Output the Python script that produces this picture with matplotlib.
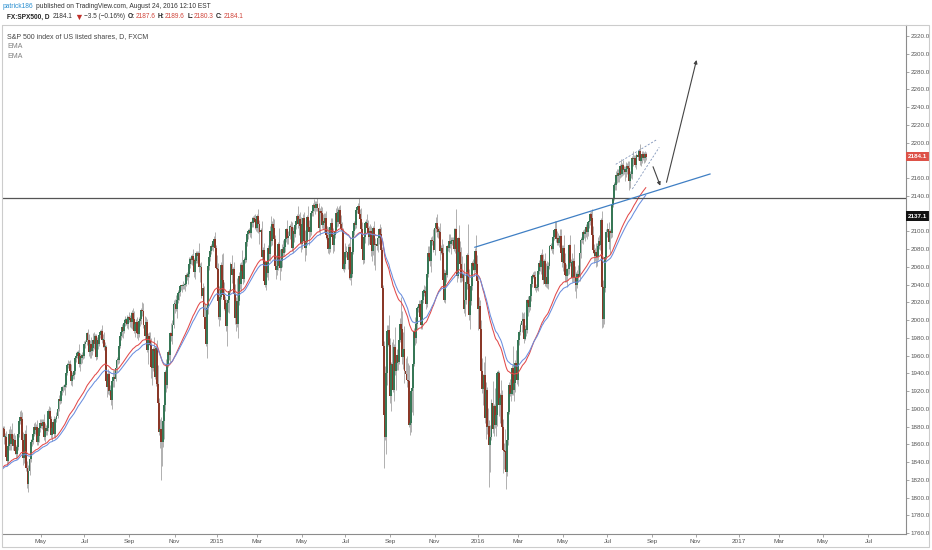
import numpy as np
import pandas as pd
import matplotlib
matplotlib.use("Agg")
import matplotlib.pyplot as plt
from matplotlib.patches import Rectangle

plt.rcParams['font.family'] = ['Liberation Sans', 'DejaVu Sans']

# ---- data: FXCM SPX500 daily closes ----
# Jan-Feb 2014 only feed the EMAs (left of the visible window)
warmup_close = [1832, 1831, 1826, 1838, 1837, 1838, 1843, 1819, 1839, 1848, 1845, 1838, 1843, 1844, 1829, 1790, 1782, 1792, 1774, 1794, 1783,
                1742, 1755, 1751, 1773, 1797, 1800, 1819, 1820, 1830, 1838, 1840, 1829, 1839, 1828, 1837, 1848, 1845, 1854, 1859]

close_2014 = [  # Mar .. Dec
    1845, 1873, 1873, 1877, 1878, 1877, 1868, 1868, 1846, 1841, 1858, 1872, 1860, 1872, 1866, 1858, 1865, 1852, 1849, 1857, 1872,
    1886, 1891, 1889, 1865, 1845, 1852, 1872, 1833, 1815, 1830, 1843, 1862, 1865, 1872, 1880, 1876, 1879, 1863, 1869, 1878, 1884,
    1883, 1881, 1885, 1868, 1878, 1875, 1878, 1897, 1897, 1888, 1870, 1878, 1885, 1872, 1888, 1892, 1900, 1911, 1909, 1920, 1924,
    1924, 1924, 1927, 1940, 1949, 1951, 1950, 1943, 1931, 1937, 1938, 1942, 1957, 1960, 1963, 1963, 1950, 1959, 1957, 1961, 1960,
    1973, 1975, 1985, 1977, 1964, 1973, 1965, 1968, 1977, 1973, 1982, 1958, 1978, 1973, 1983, 1987, 1988, 1978, 1978, 1970, 1970, 1931,
    1925, 1939, 1920, 1920, 1910, 1931, 1936, 1933, 1946, 1955, 1955, 1971, 1982, 1986, 1992, 1988, 1997, 2000, 2000, 1996, 2003,
    2002, 2000, 1998, 2008, 2001, 1988, 1995, 1998, 1985, 1984, 1999, 2001, 2011, 2010, 1994, 1982, 1998, 1966, 1982, 1977, 1972,
    1947, 1946, 1967, 1965, 1936, 1969, 1928, 1906, 1874, 1877, 1862, 1862, 1886, 1904, 1941, 1927, 1950, 1964, 1961, 1985, 1982, 1994, 2018,
    2018, 2012, 2023, 2031, 2032, 2038, 2039, 2038, 2039, 2039, 2041, 2051, 2049, 2052, 2063, 2069, 2068, 2072, 2068,
    2054, 2067, 2075, 2072, 2075, 2060, 2060, 2027, 2036, 2003, 1990, 1973, 2013, 2061, 2071, 2078, 2083, 2082, 2089, 2091, 2081, 2059,
]
close_2015 = [
    2058, 2021, 2003, 2026, 2062, 2045, 2028, 2023, 2012, 1993, 2019, 2023, 2033, 2063, 2051, 2057, 2029, 2002, 2021, 1995,
    2021, 2050, 2041, 2062, 2055, 2046, 2068, 2068, 2088, 2097, 2100, 2100, 2098, 2110, 2109, 2115, 2114, 2110, 2104,
    2117, 2108, 2099, 2101, 2071, 2079, 2044, 2040, 2065, 2053, 2081, 2074, 2100, 2089, 2108, 2104, 2091, 2061, 2056, 2061, 2086, 2068,
    2059, 2066, 2080, 2076, 2082, 2091, 2102, 2092, 2095, 2106, 2105, 2081, 2100, 2097, 2107, 2112, 2117, 2108, 2114, 2106, 2086,
    2108, 2115, 2089, 2081, 2088, 2116, 2105, 2099, 2099, 2121, 2123, 2130, 2128, 2126, 2131, 2126, 2104, 2123, 2121, 2107,
    2112, 2109, 2115, 2096, 2092, 2080, 2080, 2105, 2109, 2094, 2084, 2096, 2100, 2121, 2110, 2122, 2124, 2108, 2102, 2101, 2058, 2063,
    2077, 2077, 2068, 2082, 2047, 2052, 2077, 2100, 2109, 2107, 2124, 2127, 2128, 2119, 2114, 2102, 2080, 2068, 2093, 2109, 2109, 2104,
    2098, 2094, 2100, 2084, 2078, 2104, 2084, 2086, 2083, 2092, 2102, 2097, 2079, 2036, 1971, 1893, 1868, 1940, 1988, 1989, 1972,
    1914, 1949, 1951, 1921, 1970, 1942, 1952, 1961, 1953, 1978, 1996, 1990, 1958, 1967, 1943, 1939, 1932, 1931, 1882, 1884, 1920,
    1923, 1951, 1988, 1980, 1996, 2014, 2014, 2018, 2003, 1994, 2023, 2033, 2033, 2030, 2018, 2052, 2075, 2071, 2066, 2090, 2089, 2079,
    2104, 2109, 2102, 2099, 2099, 2078, 2081, 2076, 2045, 2023, 2053, 2051, 2083, 2081, 2089, 2086, 2089, 2089, 2090, 2080,
    2102, 2080, 2050, 2092, 2077, 2063, 2047, 2052, 2012, 2022, 2043, 2073, 2041, 2006, 2021, 2038, 2064, 2061, 2056, 2078, 2063, 2044,
]
close_2016 = [  # Jan .. Aug 24
    2012, 2016, 1990, 1943, 1922, 1923, 1938, 1890, 1921, 1880, 1881, 1859, 1868, 1906, 1877, 1903, 1882, 1893, 1940,
    1940, 1904, 1912, 1915, 1880, 1853, 1852, 1851, 1829, 1865, 1896, 1927, 1917, 1917, 1946, 1921, 1929, 1952, 1948, 1932,
    1978, 1987, 1994, 1999, 2001, 1979, 1989, 1989, 2022, 2019, 2015, 2027, 2041, 2050, 2051, 2049, 2036, 2036, 2037, 2055, 2064, 2060,
    2073, 2066, 2045, 2066, 2041, 2048, 2041, 2061, 2083, 2083, 2080, 2094, 2101, 2102, 2091, 2092, 2087, 2091, 2095, 2075, 2065,
    2081, 2064, 2051, 2050, 2057, 2058, 2084, 2064, 2064, 2047, 2066, 2047, 2047, 2040, 2052, 2048, 2076, 2090, 2090, 2099, 2097,
    2099, 2105, 2099, 2110, 2112, 2119, 2115, 2096, 2079, 2075, 2072, 2077, 2071, 2083, 2089, 2085, 2113, 2037, 2001, 2036, 2071, 2099,
    2103, 2088, 2100, 2098, 2130, 2137, 2152, 2152, 2163, 2162, 2166, 2163, 2173, 2165, 2175, 2169, 2169, 2167, 2170, 2174,
    2171, 2157, 2164, 2164, 2183, 2181, 2182, 2175, 2186, 2184, 2190, 2179, 2182, 2187, 2184, 2182, 2187.6, 2184.1,
]

# upper / lower wick length (points beyond the body)
wick_hi_2014 = [
    8, 3, 4, 5, 6, 3, 4, 5, 7, 6, 4, 5, 9, 5, 12, 6, 8, 5, 7, 6, 4,
    5, 6, 8, 7, 9, 5, 4, 10, 8, 7, 12, 4, 5, 3, 4, 5, 4, 8, 6, 3, 5,
    4, 5, 3, 9, 6, 4, 5, 3, 6, 5, 4, 6, 3, 7, 3, 4, 3, 4, 6, 3, 2,
    3, 4, 3, 2, 3, 4, 3, 5, 8, 4, 4, 3, 2, 4, 2, 3, 10, 4, 3, 3, 4,
    3, 2, 1, 5, 7, 4, 8, 4, 8, 9, 2, 2, 3, 5, 3, 2, 2, 6, 6, 8, 5, 2,
    9, 6, 3, 7, 8, 2, 8, 8, 3, 3, 10, 3, 2, 2, 3, 5, 4, 5, 2, 6, 2,
    6, 4, 9, 3, 6, 9, 2, 3, 5, 6, 4, 9, 2, 9, 9, 10, 5, 3, 3, 5, 10,
    8, 10, 3, 14, 6, 2, 8, 21, 6, 12, 14, 10, 7, 3, 3, 15, 5, 2, 6, 2, 12, 6, 5,
    6, 10, 2, 3, 3, 2, 1, 2, 5, 3, 2, 2, 3, 2, 8, 2, 4, 2, 8,
    2, 2, 3, 3, 3, 12, 4, 5, 6, 2, 15, 26, 3, 6, 5, 2, 3, 3, 2, 4, 8, 4,
]
wick_lo_2014 = [
    20, 3, 5, 4, 6, 5, 8, 9, 4, 5, 3, 4, 6, 7, 3, 5, 4, 3, 6, 5, 3,
    4, 3, 5, 3, 8, 6, 4, 3, 4, 9, 5, 3, 4, 5, 3, 4, 5, 4, 4, 6, 4,
    5, 4, 8, 3, 6, 5, 4, 3, 5, 4, 3, 6, 3, 4, 5, 3, 2, 3, 4, 3, 4,
    5, 3, 8, 3, 2, 3, 4, 3, 4, 5, 4, 5, 3, 4, 3, 3, 3, 7, 6, 5, 4,
    3, 4, 3, 3, 4, 7, 8, 4, 3, 6, 3, 3, 2, 6, 2, 3, 4, 4, 8, 4, 5, 2,
    12, 8, 5, 8, 6, 10, 6, 8, 2, 5, 4, 3, 3, 5, 5, 8, 3, 4, 6, 5, 6,
    4, 8, 7, 8, 12, 3, 7, 10, 5, 7, 3, 6, 6, 5, 3, 5, 4, 2, 16, 5, 8,
    12, 19, 4, 6, 2, 10, 2, 6, 3, 18, 42, 27, 5, 20, 6, 8, 4, 3, 6, 8, 6, 9, 3,
    10, 2, 10, 4, 8, 5, 4, 6, 3, 4, 6, 3, 4, 8, 3, 4, 5, 6, 2,
    6, 8, 3, 8, 4, 6, 17, 2, 4, 4, 12, 2, 16, 6, 5, 5, 4, 3, 4, 3, 3, 2,
]
wick_hi_2015 = [
    14, 6, 17, 4, 3, 12, 30, 15, 4, 12, 3, 8, 2, 2, 10, 3, 8, 12, 5, 26,
    3, 4, 14, 3, 17, 6, 3, 5, 2, 2, 3, 4, 2, 2, 6, 2, 3, 5, 6,
    2, 8, 5, 3, 10, 3, 8, 12, 2, 16, 3, 8, 6, 17, 3, 7, 10, 5, 12, 6, 2, 18,
    12, 8, 6, 10, 4, 3, 2, 11, 5, 2, 6, 5, 5, 6, 4, 4, 3, 12, 5, 8, 10,
    3, 5, 7, 12, 3, 2, 13, 8, 6, 2, 3, 2, 6, 6, 3, 7, 6, 3, 6, 6,
    8, 9, 6, 8, 10, 13, 9, 2, 6, 6, 10, 3, 8, 5, 7, 4, 4, 6, 10, 8, 3, 7,
    10, 6, 9, 5, 12, 15, 8, 2, 3, 6, 2, 2, 4, 10, 6, 12, 8, 12, 3, 2, 5, 10,
    9, 8, 8, 6, 6, 2, 8, 6, 6, 2, 2, 6, 8, 3, 3, 5, 55, 2, 6, 5, 17,
    8, 4, 24, 28, 3, 22, 9, 6, 8, 10, 6, 30, 20, 20, 26, 14, 20, 20, 18, 16, 3,
    3, 4, 3, 15, 4, 2, 4, 4, 5, 15, 3, 2, 6, 5, 20, 4, 8, 8, 10, 3, 5, 14,
    2, 7, 10, 4, 6, 10, 4, 10, 10, 12, 3, 17, 2, 5, 8, 8, 4, 5, 4, 14,
    2, 23, 10, 2, 15, 12, 19, 20, 12, 18, 30, 2, 35, 17, 6, 5, 2, 5, 7, 3, 18, 10,
]
wick_lo_2015 = [
    12, 20, 10, 3, 2, 5, 4, 12, 18, 5, 22, 10, 15, 3, 9, 8, 4, 6, 14, 3,
    15, 4, 6, 8, 8, 5, 3, 4, 3, 5, 6, 3, 5, 6, 4, 4, 4, 8, 4,
    5, 10, 13, 4, 3, 8, 2, 3, 6, 4, 8, 6, 8, 6, 4, 4, 3, 3, 10, 5, 5, 3,
    14, 4, 6, 5, 4, 5, 3, 6, 6, 4, 4, 3, 5, 9, 3, 5, 3, 4, 12, 5, 9,
    6, 4, 5, 14, 8, 4, 3, 14, 6, 3, 4, 6, 5, 6, 3, 3, 5, 8, 4, 3,
    5, 10, 4, 5, 8, 4, 6, 3, 5, 4, 8, 6, 4, 2, 5, 4, 3, 3, 2, 4, 2, 4,
    5, 6, 10, 22, 2, 8, 4, 3, 4, 4, 3, 3, 3, 2, 5, 6, 3, 5, 4, 6, 4, 5,
    14, 8, 6, 12, 12, 5, 22, 28, 4, 6, 6, 4, 8, 6, 7, 60, 3, 19, 13, 17, 4,
    8, 16, 7, 2, 12, 4, 21, 8, 9, 3, 3, 6, 8, 13, 14, 5, 8, 14, 3, 12, 10,
    24, 30, 3, 8, 6, 6, 5, 6, 8, 4, 4, 4, 6, 7, 6, 3, 4, 4, 5, 12, 5, 2,
    6, 5, 8, 7, 10, 10, 4, 4, 4, 3, 4, 8, 2, 3, 4, 5, 12, 5, 2, 2,
    4, 4, 7, 3, 5, 20, 4, 3, 4, 8, 4, 8, 3, 6, 16, 4, 4, 5, 6, 2, 4, 3,
]
wick_hi_2016 = [
    4, 10, 6, 10, 14, 16, 15, 22, 9, 4, 20, 6, 14, 5, 25, 2, 20, 6, 2,
    4, 2, 6, 17, 6, 8, 8, 25, 10, 2, 4, 3, 7, 10, 3, 25, 3, 3, 14, 14,
    2, 2, 3, 10, 7, 8, 5, 6, 2, 5, 6, 5, 5, 2, 3, 4, 6, 5, 4, 3, 4, 8,
    2, 7, 8, 3, 10, 16, 18, 4, 2, 4, 4, 2, 2, 9, 10, 8, 6, 5, 7, 8, 10,
    3, 15, 12, 12, 2, 10, 2, 12, 5, 12, 4, 20, 14, 7, 4, 10, 2, 3, 2, 2, 4,
    2, 3, 5, 2, 7, 3, 4, 10, 10, 7, 6, 10, 10, 11, 7, 6, 2, 10, 8, 2, 2, 3,
    6, 7, 3, 10, 2, 6, 3, 3, 5, 7, 4, 4, 3, 8, 2, 5, 4, 4, 8, 3,
    5, 8, 4, 4, 2, 7, 4, 4, 2, 4, 3, 8, 3, 3, 3, 5, 3, 2.0,
]
wick_lo_2016 = [
    23, 6, 8, 4, 4, 18, 8, 6, 24, 8, 16, 47, 30, 3, 4, 8, 4, 13, 12,
    8, 12, 20, 14, 4, 25, 20, 6, 19, 5, 6, 2, 3, 8, 2, 6, 12, 10, 10, 4,
    6, 6, 4, 8, 5, 5, 2, 7, 4, 14, 6, 4, 6, 4, 3, 6, 2, 4, 2, 4, 3, 5,
    8, 5, 4, 3, 3, 4, 5, 6, 3, 4, 5, 6, 4, 8, 3, 6, 3, 5, 4, 4, 5,
    10, 5, 8, 7, 13, 6, 6, 3, 10, 4, 4, 4, 14, 15, 4, 5, 4, 6, 3, 4, 5,
    8, 5, 8, 4, 6, 5, 6, 3, 3, 11, 6, 12, 10, 3, 3, 6, 3, 46, 9, 6, 4, 3,
    5, 8, 14, 6, 4, 3, 2, 5, 5, 8, 6, 7, 3, 4, 3, 6, 4, 10, 6, 5,
    6, 10, 8, 4, 5, 7, 4, 3, 5, 4, 4, 4, 6, 5, 4, 5, 4, 3.8,
]

# chart drawings (date, price)
hline_price = 2137.1
trend_dates, trend_prices = ['2015-12-29', '2016-11-21'], [2082.0, 2164.5]
chan_up_dates, chan_up_prices = ['2016-07-14', '2016-09-08'], [2175.4, 2202.8]
chan_lo_dates, chan_lo_prices = ['2016-08-05', '2016-09-13'], [2147.6, 2194.6]
arrow1_dates, arrow1_prices = ['2016-09-02', '2016-09-14'], [2172.7, 2151.3]
arrow2_dates, arrow2_prices = ['2016-09-22', '2016-11-02'], [2155.2, 2293.0]

nyse_holidays = ['2014-01-01', '2014-01-20', '2014-02-17', '2014-04-18', '2014-05-26', '2014-07-04', '2014-09-01',
                 '2014-11-27', '2014-12-25', '2015-01-01', '2015-01-19', '2015-02-16', '2015-04-03', '2015-05-25',
                 '2015-07-03', '2015-09-07', '2015-11-26', '2015-12-25', '2016-01-01', '2016-01-18', '2016-02-15',
                 '2016-03-25', '2016-05-30', '2016-07-04', '2016-09-05', '2016-11-24', '2016-12-26', '2017-01-02',
                 '2017-01-16', '2017-02-20', '2017-04-14', '2017-05-29', '2017-07-04']

# ---- build series ----
cal = pd.bdate_range('2014-01-02', '2017-08-31', freq='C', holidays=nyse_holidays)
close = np.array(close_2014 + close_2015 + close_2016, float)
wick_hi = np.array(wick_hi_2014 + wick_hi_2015 + wick_hi_2016, float)
wick_lo = np.array(wick_lo_2014 + wick_lo_2015 + wick_lo_2016, float)
n = len(close)
end_pos = cal.searchsorted(pd.Timestamp('2016-08-24'))
xs = np.arange(end_pos - n + 1, end_pos + 1)

opn = np.concatenate([[warmup_close[-1]], close[:-1]])
high = np.maximum(opn, close) + wick_hi
low = np.minimum(opn, close) - wick_lo

allc = pd.Series(warmup_close + list(close))
ema_fast = allc.ewm(span=50, adjust=False).mean().values[-n:]
ema_slow = allc.ewm(span=60, adjust=False).mean().values[-n:]


def xpos(d):
    return cal.searchsorted(pd.Timestamp(d))


# ---- figure ----
W, H = 932, 550
fig = plt.figure(figsize=(W / 100, H / 100), dpi=100)
fig.patch.set_facecolor('white')
ax = fig.add_axes([2 / W, (H - 534) / H, 904 / W, 509 / H])

UP, DN = '#377756', '#8a3828'
ax.vlines(xs, low, high, color='#a3a3a3', lw=0.6, zorder=2)
up = close >= opn
ax.bar(xs, np.maximum(np.abs(close - opn), 1.0), bottom=np.minimum(opn, close), width=1.8,
       color=np.where(up, UP, DN), lw=0, zorder=3)

ax.plot(xs, ema_fast, color='#e24a4a', lw=0.75, zorder=4)
ax.plot(xs, ema_slow, color='#6a8ede', lw=0.75, zorder=4)

# drawings
ax.axhline(hline_price, color='#555555', lw=0.9, zorder=5)
ax.plot([xpos(d) for d in trend_dates], trend_prices, color='#3f7fc4', lw=0.9, zorder=5)
for dts, prs in [(chan_up_dates, chan_up_prices), (chan_lo_dates, chan_lo_prices)]:
    ax.plot([xpos(d) for d in dts], prs, color='#7f93b8', lw=0.6, dashes=(2.5, 2), zorder=5)
for dts, prs in [(arrow1_dates, arrow1_prices), (arrow2_dates, arrow2_prices)]:
    ax.annotate('', xy=(xpos(dts[1]), prs[1]), xytext=(xpos(dts[0]), prs[0]),
                arrowprops=dict(arrowstyle='-|>', color='#444444', lw=0.8, mutation_scale=5,
                                shrinkA=0, shrinkB=0), zorder=6)

# scales: 2015-01-02 at px 217, 261 px per year of bars
k15 = xpos('2015-01-02')
pxbar = 261 / 252
ax.set_xlim(k15 - (217 - 2) / pxbar, k15 + (906 - 217) / pxbar)
ax.set_ylim(1758.9, 2332.4)

yt = np.arange(1760, 2321, 20)
ax.set_yticks(yt)
ax.set_yticklabels(['' if v in (2120, 2180) else f'{v:.1f}' for v in yt])
ax.yaxis.tick_right()

cs = cal.to_series()
firsts = cs.groupby(cal.to_period('M')).first()
tick_pos, tick_lab = [], []
for per, d in firsts.items():
    if per.month % 2 == 1 and pd.Timestamp('2014-05-01') <= d <= pd.Timestamp('2017-07-31'):
        tick_pos.append(xpos(d))
        tick_lab.append(str(per.year) if per.month == 1 else d.strftime('%b'))
ax.set_xticks(tick_pos)
ax.set_xticklabels(tick_lab)

ax.tick_params(axis='y', length=2.5, width=0.6, color='#999999', labelsize=4.5, labelcolor='#555555', pad=1)
ax.tick_params(axis='x', length=2, width=0.6, color='#999999', labelsize=4.6, labelcolor='#555555', pad=1.5)
for s in ['top', 'left']:
    ax.spines[s].set_color('#cfcfcf')
    ax.spines[s].set_linewidth(0.7)
for s in ['right', 'bottom']:
    ax.spines[s].set_color('#8c8c8c')
    ax.spines[s].set_linewidth(0.8)

fig.patches.append(Rectangle((2 / W, 1 - 547 / H), 927 / W, 522 / H, transform=fig.transFigure,
                             fill=False, ec='#cccccc', lw=0.8))

# price tags on the scale
for price, label, bg in [(close[-1], f'{close[-1]:.1f}', '#dd5248'), (2117.0, f'{hline_price:.1f}', '#111111')]:
    ax.text(1.0025, price, label, transform=ax.get_yaxis_transform(), ha='left', va='center',
            fontsize=4.5, color='white', fontweight='bold', clip_on=False, zorder=10,
            bbox=dict(boxstyle='square,pad=0.35', fc=bg, ec='none'))

renderer = fig.canvas.get_renderer()


def row(px, py, parts, size):
    # lay out text pieces left to right, each starting after the previous one
    for s, gap, kw in parts:
        opts = {'fontsize': size, **kw}
        t = fig.text(px / W, 1 - py / H, s, ha='left', va='center', **opts)
        px = t.get_window_extent(renderer).x1 + gap


chg = close[-1] - close[-2]
red = '#d0443a'
dark = {'color': '#333333'}
bold = {'color': '#222222', 'fontweight': 'bold'}
row(3, 7, [('patrick186', 2, {'color': '#2a8fd0'}),
           ('published on TradingView.com, August 24, 2016 12:10 EST', 0, dark)], 4.8)
parts = [('FX:SPX500, D', 3, bold), (f'{close[-1]:.1f}', 1.5, dark), ('▼', 1.5, {'color': '#c0302a', 'fontsize': 6.5}),
         (f'\u2212{abs(chg):.1f} (\u2212{abs(chg) / close[-2] * 100:.2f}%)', 2.5, dark)]
for lab, val in [('O:', opn[-1]), ('H:', high[-1]), ('L:', low[-1]), ('C:', close[-1])]:
    parts += [(lab, 0.5, bold), (f'{val:.1f}', 2.5, {'color': red})]
row(7, 17, parts, 4.7)

row(7, 37, [('S&P 500 index of US listed shares, D, FXCM', 0, {'color': '#444444'})], 5.0)
row(7, 47, [('EMA', 0, {'color': '#808080'})], 5.0)
row(7, 57, [('EMA', 0, {'color': '#808080'})], 5.0)

fig.savefig('out.png', dpi=100, facecolor='white')
